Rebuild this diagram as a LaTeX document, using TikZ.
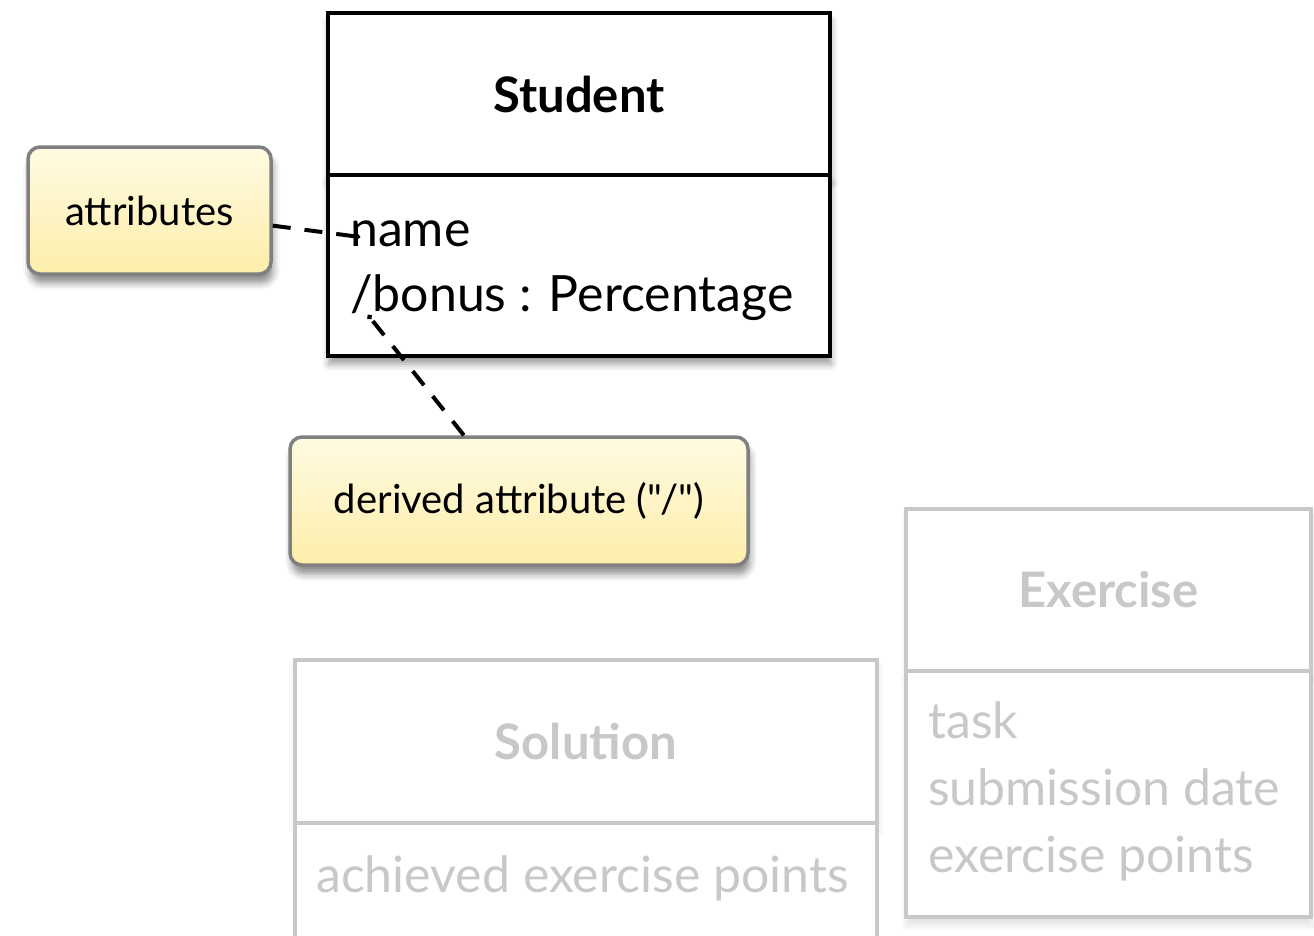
\documentclass[tikz,border=0pt]{standalone}
\usepackage{fontspec}
\setmainfont{Lato}[Ligatures=TeXOff]
\usetikzlibrary{positioning,shadows.blur,arrows.meta}
\definecolor{notetop}{RGB}{255,250,226}
\definecolor{notebot}{RGB}{253,238,170}
\definecolor{faded}{RGB}{200,200,200}
\tikzset{
  classhead/.style={draw, rectangle, fill=white, line width=3.5pt, outer sep=0pt, minimum width=#1, minimum height=162pt, inner sep=0pt, font=\fontsize{49}{56}\selectfont\bfseries},
  classbody/.style={draw, rectangle, fill=white, line width=3.5pt, outer sep=0pt, minimum width=#1, inner sep=0pt},
  boxshadow/.style={blur shadow={shadow xshift=1pt, shadow yshift=-8pt, shadow blur radius=7pt, shadow opacity=#1}},
  attr/.style={anchor=base west, inner sep=0pt, font=\fontsize{50}{58}\selectfont},
  faded/.style={draw=faded, text=faded},
  note/.style={draw=black!50, rectangle, rounded corners=12pt, line width=3.5pt, top color=notetop, bottom color=notebot, font=\fontsize{40}{48}\selectfont, blur shadow={shadow xshift=2pt, shadow yshift=-9pt, shadow blur radius=7pt, shadow opacity=45}},
  notelink/.style={line width=4pt, dash pattern=on 18pt off 14pt, -{Circle[length=5pt]}}
}

\begin{document}
\begin{tikzpicture}[x=1pt, y=-1pt]
  \useasboundingbox (0,0) rectangle (1314,935);

  % Student
  \node[classhead=502, boxshadow=40] (studenthead) at (579,94) {Student};
  \node[classbody=502, minimum height=181pt, below=0pt of studenthead, boxshadow=40] (studentbody) {};
  \draw[line width=3.5pt] (studenthead.south west) -- (studenthead.south east);
  \node[attr] (sname) at (350,246) {name};
  \node[attr] (sbonus) at (350,311) {/bonus : Percentage};

  % Exercise (faded)
  \node[classhead=405, faded, boxshadow=12] (exercisehead) at (1108.5,590) {Exercise};
  \node[classbody=405, faded, minimum height=246pt, below=0pt of exercisehead, boxshadow=12] (exercisebody) {};
  \draw[line width=3.5pt, faded] (exercisehead.south west) -- (exercisehead.south east);
  \node[attr, text=faded] (etask) at (928,738) {task};
  \node[attr, text=faded] (edate) at (928,805) {submission date};
  \node[attr, text=faded] (epoints) at (928,872) {exercise points};

  % Solution (faded, cut at the bottom)
  \node[classhead=582, faded, minimum height=163pt, boxshadow=12] (solutionhead) at (586,741.5) {Solution};
  \node[classbody=582, faded, minimum height=180pt, below=0pt of solutionhead] (solutionbody) {};
  \draw[line width=3.5pt, faded] (solutionhead.south west) -- (solutionhead.south east);
  \node[attr, text=faded] (sachieved) at (316,892) {achieved exercise points};

  % notes
  \node[note, minimum width=243pt, minimum height=127pt] (attrnote) at (149.5,210.5) {attributes};
  \node[note, minimum width=458pt, minimum height=128pt] (derivednote) at (519,501) {derived attribute ("/")};

  \coordinate (namept) at (360,237);
  \coordinate (bonuspt) at (368,315);
  \draw[notelink] (attrnote.-7) -- (namept);
  \draw[notelink] (derivednote.130) -- (bonuspt);
\end{tikzpicture}
\end{document}
